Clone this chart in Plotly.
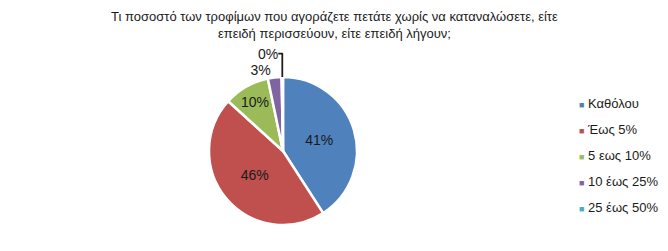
import plotly.graph_objects as go

labels = ["Καθόλου", "Έως 5%", "5 εως 10%", "10 έως 25%", "25 έως 50%"]
values = [41, 46, 10, 3, 0.3]
colors = ["#4F81BD", "#C0504D", "#9BBB59", "#8064A2", "#4BACC6"]
title_lines = ["Τι ποσοστό των τροφίμων που αγοράζετε πετάτε χωρίς να καταναλώσετε, είτε",
               "επειδή περισσεύουν, είτε επειδή λήγουν;"]

W, H = 668, 251
font = "Liberation Sans Narrow, Arial Narrow, Liberation Sans, sans-serif"

positions = ["inside" if v >= 5 else "outside" for v in values]

fig = go.Figure()
fig.add_trace(go.Pie(
    labels=labels, values=values, sort=False, direction="clockwise", rotation=0,
    marker=dict(colors=colors, line=dict(color="white", width=2.5)),
    texttemplate="%{percent:.0%}", textposition=positions,
    insidetextorientation="horizontal",
    textfont=dict(family=font, size=14, color="#1a1a1a"),
    domain=dict(x=[209 / W, 357 / W], y=[26 / H, 174 / H]),
    showlegend=False, hoverinfo="label+percent",
))
for lab, col in zip(labels, colors):
    fig.add_trace(go.Scatter(
        x=[None], y=[None], mode="markers", legendgroup=lab,
        name=f'<span style="color:{col};font-size:9px">■</span> {lab}',
        marker=dict(symbol="square", size=1, color="rgba(0,0,0,0)"), showlegend=True,
    ))

fig.add_annotation(
    text="<br>".join(title_lines), xref="paper", yref="paper", x=0.5, y=1 - 7 / H,
    xanchor="center", yanchor="top", showarrow=False, align="center",
    font=dict(family=font, size=13, color="#1a1a1a"),
)

fig.update_layout(
    width=W, height=H, margin=dict(l=0, r=0, t=0, b=0),
    paper_bgcolor="white", plot_bgcolor="white",
    xaxis=dict(visible=False), yaxis=dict(visible=False),
    legend=dict(x=539 / W, y=1 - 88 / H, xanchor="left", yanchor="top",
                font=dict(family=font, size=13, color="#1a1a1a"),
                tracegroupgap=6, itemwidth=30, bgcolor="rgba(0,0,0,0)"),
)
fig.write_html("out.html")
